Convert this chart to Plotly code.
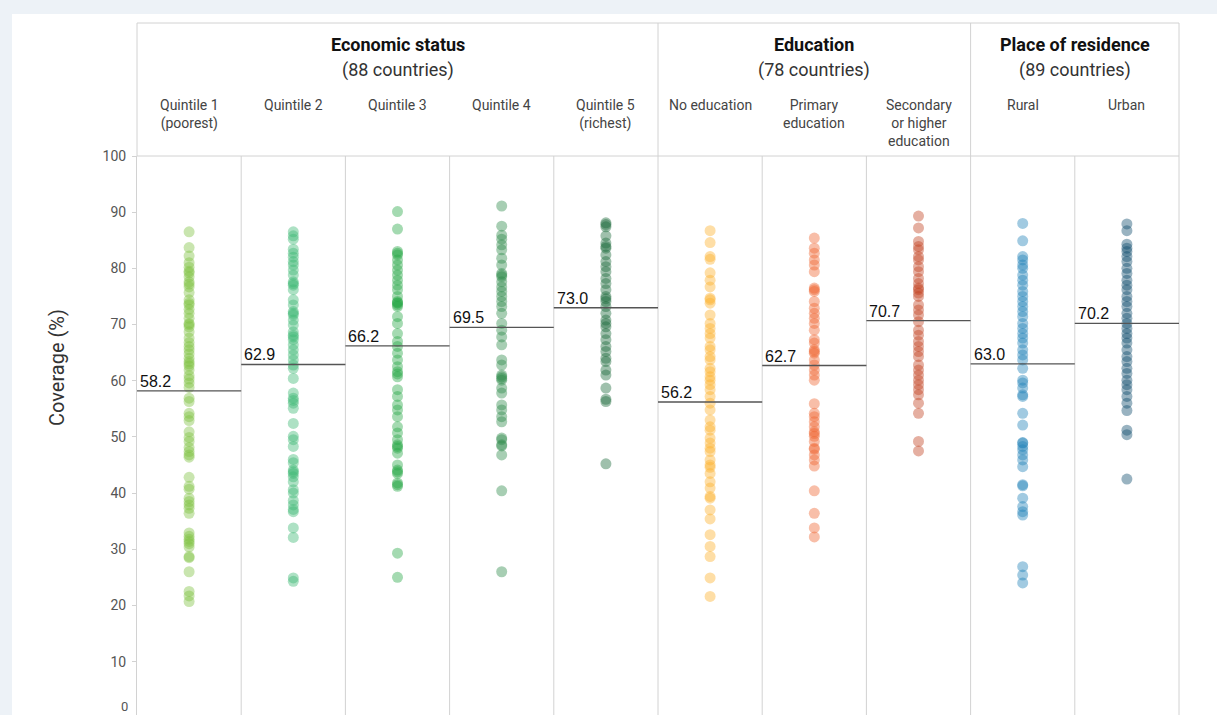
import plotly.graph_objects as go

# ---------------- data ----------------
categories = ["Quintile 1<br>(poorest)", "Quintile 2", "Quintile 3", "Quintile 4", "Quintile 5<br>(richest)",
              "No education", "Primary<br>education", "Secondary<br>or higher<br>education", "Rural", "Urban"]

group_titles = ["Economic status", "Education", "Place of residence"]
group_counts = ["(88 countries)", "(78 countries)", "(89 countries)"]
group_spans = [(0, 4), (5, 7), (8, 9)]

means = [58.2, 62.9, 66.2, 69.5, 73.0, 56.2, 62.7, 70.7, 63.0, 70.2]

q1 = [86.5, 83.7, 82.2, 81.0, 80.2, 79.5, 79.2, 78.5, 77.6, 77.2, 76.7, 75.7, 74.4, 73.8, 73.5, 72.7, 72.0,
      71.1, 70.2, 70.0, 69.6, 68.7, 67.6, 66.8, 66.1, 65.5, 64.8, 64.0, 63.4, 63.0, 62.6, 61.9, 60.9, 60.3,
      59.6, 58.8, 56.9, 56.3, 54.2, 53.6, 52.9, 50.9, 49.9, 49.2, 48.1, 47.4, 46.8, 46.4, 42.8, 41.2, 40.7,
      39.1, 38.5, 37.9, 37.3, 36.4, 32.9, 32.3, 31.8, 31.4, 31.0, 30.4, 28.7, 28.5, 26.0, 22.5, 21.7, 20.7]
q2 = [86.5, 85.8, 85.2, 83.4, 82.7, 82.0, 81.2, 80.6, 79.7, 78.8, 77.6, 77.3, 77.0, 76.2, 74.4, 73.5, 72.3,
      72.0, 71.7, 70.8, 69.9, 68.7, 68.1, 67.8, 67.3, 66.4, 65.5, 64.6, 63.7, 62.8, 62.2, 60.4, 57.8, 56.9,
      56.5, 56.0, 55.1, 52.4, 50.1, 49.5, 48.3, 46.0, 45.4, 44.1, 43.8, 43.5, 42.9, 42.0, 40.6, 40.0, 38.7,
      37.9, 37.1, 36.7, 33.8, 32.1, 24.9, 24.3]
q3 = [90.1, 87.0, 83.0, 82.7, 82.4, 81.5, 80.6, 79.7, 78.8, 77.9, 77.0, 76.2, 75.0, 74.1, 73.9, 73.8, 73.5,
      73.2, 71.4, 70.2, 68.4, 67.0, 66.1, 64.9, 63.7, 62.5, 61.6, 61.2, 60.7, 58.4, 57.2, 55.7, 54.8, 53.6,
      51.8, 50.7, 49.5, 48.6, 48.3, 48.0, 47.1, 45.0, 44.1, 43.8, 43.5, 41.8, 41.5, 41.2, 29.3, 25.0]
q4 = [91.1, 87.5, 85.9, 85.2, 84.2, 83.3, 81.8, 80.6, 79.1, 78.8, 78.5, 77.6, 76.7, 75.9, 75.0, 74.1, 73.2,
      72.0, 70.2, 69.0, 67.8, 66.4, 63.7, 62.8, 61.0, 60.7, 60.4, 60.1, 58.7, 57.8, 55.7, 54.8, 53.6, 52.7,
      49.8, 49.5, 48.6, 48.4, 46.8, 40.4, 26.0]
q5 = [88.1, 87.8, 87.4, 85.8, 84.5, 83.9, 83.6, 82.4, 81.2, 80.3, 79.4, 78.2, 77.3, 76.2, 75.0, 74.6, 74.1,
      73.2, 72.0, 70.8, 70.2, 69.6, 68.4, 67.3, 66.1, 65.2, 64.0, 63.4, 61.9, 61.0, 58.7, 56.7, 56.3, 45.2]
no_edu = [86.7, 84.6, 82.1, 81.6, 79.2, 77.9, 76.7, 74.7, 74.4, 73.8, 71.7, 70.2, 69.3, 68.4, 67.6, 66.1,
          65.5, 64.3, 63.7, 62.2, 61.6, 60.7, 60.1, 59.3, 58.4, 57.2, 56.0, 54.8, 53.0, 51.8, 51.2, 49.8,
          48.9, 48.0, 47.4, 45.9, 45.0, 44.6, 43.5, 42.0, 40.9, 39.4, 39.1, 37.0, 35.4, 32.6, 30.5, 28.7,
          24.9, 21.6]
primary = [85.4, 83.6, 82.7, 81.5, 80.6, 79.4, 76.5, 76.2, 75.9, 74.1, 72.9, 72.0, 71.1, 70.2, 69.0, 67.3,
           66.7, 65.5, 65.2, 64.9, 63.7, 62.8, 61.9, 61.0, 60.1, 55.9, 54.2, 53.6, 52.7, 51.8, 50.9, 50.6,
           50.1, 49.2, 48.0, 47.8, 46.8, 45.9, 44.8, 40.4, 36.4, 33.8, 32.2]
secondary = [89.3, 87.2, 84.8, 83.9, 83.3, 82.1, 81.5, 80.3, 79.4, 78.2, 77.3, 76.5, 76.2, 75.6, 75.0, 73.5,
             72.6, 71.7, 70.5, 69.0, 68.1, 67.0, 66.1, 65.2, 64.3, 62.8, 61.9, 61.0, 60.1, 59.3, 58.4, 57.5,
             56.0, 54.2, 49.2, 47.5]
rural = [88.0, 84.9, 82.1, 81.5, 80.6, 80.0, 78.8, 77.9, 77.0, 75.9, 75.0, 74.1, 73.2, 72.3, 71.4, 70.2,
         69.3, 68.4, 67.6, 66.7, 65.5, 64.6, 63.7, 62.2, 60.1, 59.6, 58.7, 57.5, 57.2, 54.2, 52.1, 49.0,
         48.9, 48.3, 47.7, 46.8, 45.9, 44.7, 41.5, 41.3, 39.1, 37.6, 36.7, 36.1, 26.9, 25.4, 24.0]
urban = [87.9, 86.7, 84.3, 83.6, 83.0, 82.1, 81.2, 80.0, 79.1, 77.9, 77.0, 76.2, 75.0, 74.1, 73.2, 72.0,
         71.1, 70.2, 69.3, 68.4, 67.6, 66.7, 65.5, 64.3, 63.4, 62.2, 61.3, 60.1, 59.3, 58.4, 57.2, 56.0,
         54.7, 51.2, 50.4, 42.5]

series = [q1, q2, q3, q4, q5, no_edu, primary, secondary, rural, urban]
colors = ["#7fc241", "#3cb873", "#27a845", "#2e8a4b", "#1b6a3a",
          "#fdb12c", "#ef6530", "#c2401f", "#1f80b8", "#0b4a6b"]

y_ticks = [10, 20, 30, 40, 50, 60, 70, 80, 90, 100]

# ---------------- layout constants ----------------
W, H = 1217, 715
L, R, T, B = 137, 38, 156, 0
PH = H - T - B
PW = W - L - R
GRID = "#d2d2d2"


def py(pix):
    """pixel row -> paper y"""
    return (H - B - pix) / PH


fig = go.Figure()

for i, (vals, col) in enumerate(zip(series, colors)):
    fig.add_trace(go.Scatter(
        x=[i] * len(vals), y=vals, mode="markers",
        marker=dict(size=11, color=col, opacity=0.42, line=dict(width=0)),
        hoverinfo="y", showlegend=False))

shapes = []
# white card background
shapes.append(dict(type="rect", xref="paper", yref="paper", x0=(12 - L) / PW, x1=(W - L) / PW,
                   y0=py(H + 5), y1=py(14), fillcolor="white", line=dict(width=0), layer="below"))
# header box
shapes.append(dict(type="rect", xref="paper", yref="paper", x0=0, x1=1, y0=1, y1=py(23),
                   line=dict(color=GRID, width=1), layer="below"))
# group separators in header
for a, b in group_spans[:-1]:
    shapes.append(dict(type="line", xref="x", yref="paper", x0=b + 0.5, x1=b + 0.5, y0=1, y1=py(23),
                       line=dict(color=GRID, width=1)))
# column separators
for i in range(len(categories) - 1):
    shapes.append(dict(type="line", xref="x", yref="paper", x0=i + 0.5, x1=i + 0.5, y0=0, y1=1,
                       line=dict(color=GRID, width=1), layer="below"))
shapes.append(dict(type="line", xref="paper", yref="paper", x0=1, x1=1, y0=0, y1=1,
                   line=dict(color=GRID, width=1), layer="below"))
# mean lines
for i, m in enumerate(means):
    shapes.append(dict(type="line", xref="x", yref="y", x0=i - 0.5, x1=i + 0.5, y0=m, y1=m,
                       line=dict(color="#555555", width=1.4)))

annotations = []
for i, m in enumerate(means):
    annotations.append(dict(x=i - 0.5, y=m, xref="x", yref="y", text=f"{m:.1f}", showarrow=False,
                            xanchor="left", yanchor="bottom", xshift=1, yshift=-1,
                            font=dict(family="Liberation Sans, Arial", size=16, color="#111111")))
for i, c in enumerate(categories):
    annotations.append(dict(x=i, y=py(95), xref="x", yref="paper", text=c, showarrow=False,
                            xanchor="center", yanchor="top",
                            font=dict(family="Roboto", size=14, color="#444444")))
for (a, b), t, n in zip(group_spans, group_titles, group_counts):
    annotations.append(dict(x=(a + b) / 2, y=py(45), xref="x", yref="paper", text=f"<b>{t}</b>",
                            showarrow=False, xanchor="center", yanchor="middle",
                            font=dict(family="Roboto", size=18, color="#111111")))
    annotations.append(dict(x=(a + b) / 2, y=py(70), xref="x", yref="paper", text=n,
                            showarrow=False, xanchor="center", yanchor="middle",
                            font=dict(family="Roboto", size=18, color="#333333")))
annotations.append(dict(x=(57 - L) / PW, y=py(368), xref="paper", yref="paper",
                        text="Coverage (%)", textangle=-90, showarrow=False,
                        xanchor="center", yanchor="middle",
                        font=dict(family="Roboto", size=20, color="#333333")))
# "0" tick label sitting at the bottom edge of the window
annotations.append(dict(x=(130 - L) / PW, y=0, xref="paper", yref="paper", text="0",
                        showarrow=False, xanchor="right", yanchor="bottom", yshift=-1,
                        font=dict(family="Roboto", size=13, color="#555555")))

fig.update_layout(
    width=W, height=H,
    margin=dict(l=L, r=R, t=T, b=B, pad=0),
    paper_bgcolor="#edf2f7", plot_bgcolor="rgba(0,0,0,0)",
    shapes=shapes, annotations=annotations,
    xaxis=dict(range=[-0.5, len(categories) - 0.5], showticklabels=False, showgrid=False,
               zeroline=False, showline=False, ticks=""),
    yaxis=dict(range=[0.5, 100], tickvals=y_ticks, showgrid=False, zeroline=False,
               showline=True, linecolor=GRID, linewidth=1, ticks="outside", ticklen=4,
               tickcolor=GRID, tickfont=dict(family="Roboto", size=14, color="#555555"),
               ticklabelstandoff=3),
)

fig.write_html("out.html", config={"displayModeBar": False},
               post_script="document.body.style.margin='0';document.body.style.overflow='hidden';")
